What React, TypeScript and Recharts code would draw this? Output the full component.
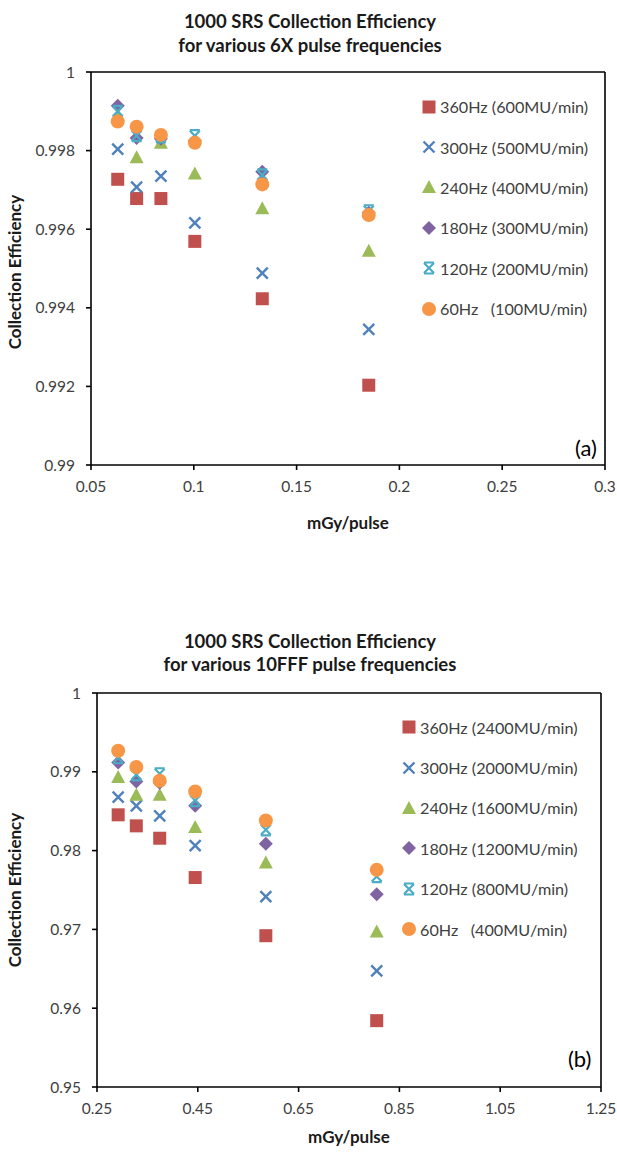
import React from "react"
import { ScatterChart, Scatter, XAxis, YAxis, ReferenceLine } from "recharts"

// ---- panel (a): 6X ----
const doseA = [0.063, 0.0722, 0.084, 0.1005, 0.1333, 0.1851]
const effA360 = [0.99727, 0.99678, 0.99678, 0.99569, 0.99423, 0.99203]
const effA300 = [0.99804, 0.99707, 0.99735, 0.99616, 0.99488, 0.99345]
const effA240 = [0.9989, 0.99783, 0.9982, 0.99742, 0.99653, 0.99545]
const effA180 = [0.99914, 0.99832, 0.9983, 0.99825, 0.99746, 0.99642]
const effA120 = [0.999, 0.99838, 0.99835, 0.99838, 0.99738, 0.99647]
const effA60 = [0.99874, 0.99861, 0.9984, 0.9982, 0.99714, 0.99636]
const labelsA = ["360Hz (600MU/min)", "300Hz (500MU/min)", "240Hz (400MU/min)", "180Hz (300MU/min)", "120Hz (200MU/min)", "60Hz   (100MU/min)"]
const xTicksA = [0.05, 0.1, 0.15, 0.2, 0.25, 0.3]
const yTicksA = [0.99, 0.992, 0.994, 0.996, 0.998, 1]

// ---- panel (b): 10FFF ----
const doseB = [0.292, 0.328, 0.3744, 0.4448, 0.585, 0.805]
const effB360 = [0.98454, 0.98314, 0.98157, 0.97658, 0.9692, 0.95842]
const effB300 = [0.98679, 0.98568, 0.98441, 0.98064, 0.97417, 0.96473]
const effB240 = [0.98933, 0.98708, 0.98708, 0.98298, 0.97849, 0.96973]
const effB180 = [0.99118, 0.98877, 0.9886, 0.98568, 0.98086, 0.97447]
const effB120 = [0.99178, 0.98962, 0.98975, 0.98635, 0.98264, 0.97671]
const effB60 = [0.99267, 0.9906, 0.98886, 0.9875, 0.98382, 0.97756]
const labelsB = ["360Hz (2400MU/min)", "300Hz (2000MU/min)", "240Hz (1600MU/min)", "180Hz (1200MU/min)", "120Hz (800MU/min)", "60Hz   (400MU/min)"]
const xTicksB = [0.25, 0.45, 0.65, 0.85, 1.05, 1.25]
const yTicksB = [0.95, 0.96, 0.97, 0.98, 0.99, 1]

const RED = "#C0504D"
const BLUE = "#4F81BD"
const GREEN = "#9BBB59"
const PURPLE = "#8064A2"
const CYAN = "#4BACC6"
const ORANGE = "#F79646"

const FONT = "Lato, 'Open Sans', sans-serif"

// marker drawers, centred on (cx, cy)
const drawSquare = (cx: number, cy: number) => <rect x={cx - 6.5} y={cy - 6.5} width={13} height={13} fill={RED} />
const drawCross = (cx: number, cy: number) => (
  <path d={`M${cx - 5.5},${cy - 5.5}L${cx + 5.5},${cy + 5.5}M${cx - 5.5},${cy + 5.5}L${cx + 5.5},${cy - 5.5}`} stroke={BLUE} strokeWidth={2.4} fill="none" />
)
const drawTriangle = (cx: number, cy: number) => <path d={`M${cx},${cy - 7}L${cx + 7},${cy + 6}L${cx - 7},${cy + 6}Z`} fill={GREEN} />
const drawDiamond = (cx: number, cy: number) => <path d={`M${cx},${cy - 7}L${cx + 7},${cy}L${cx},${cy + 7}L${cx - 7},${cy}Z`} fill={PURPLE} />
const drawStar = (cx: number, cy: number) => (
  <path
    d={`M${cx - 5},${cy - 5}L${cx + 5},${cy + 5}M${cx - 5},${cy + 5}L${cx + 5},${cy - 5}M${cx - 5},${cy - 5.5}L${cx + 5},${cy - 5.5}M${cx - 5},${cy + 5.5}L${cx + 5},${cy + 5.5}`}
    stroke={CYAN}
    strokeWidth={2.2}
    fill="none"
  />
)
const drawCircle = (cx: number, cy: number) => <circle cx={cx} cy={cy} r={7} fill={ORANGE} />

const drawers = [drawSquare, drawCross, drawTriangle, drawDiamond, drawStar, drawCircle]

const toPoints = (xs: number[], ys: number[]) => xs.map((x, i) => ({ x, y: ys[i] }))

const seriesA = [effA360, effA300, effA240, effA180, effA120, effA60].map((ys) => toPoints(doseA, ys))
const seriesB = [effB360, effB300, effB240, effB180, effB120, effB60].map((ys) => toPoints(doseB, ys))

const axisStyle = { stroke: "#000", strokeWidth: 1.6 }
const tickStyle = { fill: "#404040", fontSize: 15.5, fontFamily: FONT }

function Legend({ labels, left, top }: { labels: string[]; left: number; top: number }) {
  return (
    <div style={{ position: "absolute", left, top, fontFamily: FONT, fontSize: 16.2, color: "#404040" }}>
      {labels.map((label, i) => (
        <div key={label} style={{ display: "flex", alignItems: "center", height: 40.4, whiteSpace: "pre" }}>
          <svg width={16} height={16} style={{ marginRight: 3 }}>
            {drawers[i](8, 8)}
          </svg>
          {label}
        </div>
      ))}
    </div>
  )
}

function Panel({
  top,
  height,
  margin,
  series,
  xTicks,
  yTicks,
}: {
  top: number
  height: number
  margin: { top: number; right: number; left: number; bottom: number }
  series: { x: number; y: number }[][]
  xTicks: number[]
  yTicks: number[]
}) {
  return (
    <div style={{ position: "absolute", left: 0, top }}>
      <ScatterChart width={617} height={height} margin={margin}>
        <XAxis
          type="number"
          dataKey="x"
          domain={[xTicks[0], xTicks[xTicks.length - 1]]}
          ticks={xTicks}
          axisLine={axisStyle}
          tickLine={axisStyle}
          tickSize={5}
          tickMargin={11}
          tick={tickStyle}
          height={60}
          allowDataOverflow
        />
        <YAxis
          type="number"
          dataKey="y"
          domain={[yTicks[0], yTicks[yTicks.length - 1]]}
          ticks={yTicks}
          axisLine={axisStyle}
          tickLine={axisStyle}
          tickSize={5}
          tickMargin={11}
          tick={tickStyle}
          width={60}
          allowDataOverflow
        />
        <ReferenceLine y={yTicks[yTicks.length - 1]} stroke="#000" strokeWidth={1.6} />
        <ReferenceLine x={xTicks[xTicks.length - 1]} stroke="#000" strokeWidth={1.6} />
        {series.map((pts, i) => (
          <Scatter
            key={i}
            data={pts}
            isAnimationActive={false}
            shape={(p: any) => drawers[i](p.cx, p.cy)}
          />
        ))}
      </ScatterChart>
    </div>
  )
}

const titleStyle: React.CSSProperties = {
  position: "absolute",
  left: 0,
  width: 620,
  textAlign: "center",
  fontFamily: FONT,
  fontWeight: 700,
  fontSize: 18.5,
  color: "#1a1a1a",
}

const axisTitle: React.CSSProperties = {
  position: "absolute",
  fontFamily: FONT,
  fontWeight: 700,
  fontSize: 17,
  color: "#1a1a1a",
  whiteSpace: "nowrap",
}

export default function App() {
  return (
    <div style={{ position: "absolute", left: 0, top: 0, width: 617, height: 1152, background: "#fff" }}>
      <Panel top={0} height={560} margin={{ top: 72, right: 12, left: 31, bottom: 35 }} series={seriesA} xTicks={xTicksA} yTicks={yTicksA} />
      <Panel top={580} height={572} margin={{ top: 113, right: 16, left: 37, bottom: 5 }} series={seriesB} xTicks={xTicksB} yTicks={yTicksB} />

      <div style={{ ...titleStyle, top: 9, lineHeight: "24px" }}>
        1000 SRS Collection Efficiency
        <br />
        for various 6X pulse frequencies
      </div>
      <div style={{ ...titleStyle, top: 630, lineHeight: "23px" }}>
        1000 SRS Collection Efficiency
        <br />
        for various 10FFF pulse frequencies
      </div>

      <Legend labels={labelsA} left={421} top={86.5} />
      <Legend labels={labelsB} left={401} top={707} />

      <div style={{ position: "absolute", left: 575, top: 434, fontFamily: FONT, fontSize: 22, color: "#000" }}>(a)</div>
      <div style={{ position: "absolute", left: 568, top: 1045, fontFamily: FONT, fontSize: 22, color: "#000" }}>(b)</div>

      <div style={{ ...axisTitle, left: 14, top: 272, transform: "translate(-50%, -50%) rotate(-90deg)" }}>Collection Efficiency</div>
      <div style={{ ...axisTitle, left: 14, top: 890, transform: "translate(-50%, -50%) rotate(-90deg)" }}>Collection Efficiency</div>
      <div style={{ ...axisTitle, left: 348, top: 522, transform: "translate(-50%, -50%)" }}>mGy/pulse</div>
      <div style={{ ...axisTitle, left: 349, top: 1136, transform: "translate(-50%, -50%)" }}>mGy/pulse</div>
    </div>
  )
}
